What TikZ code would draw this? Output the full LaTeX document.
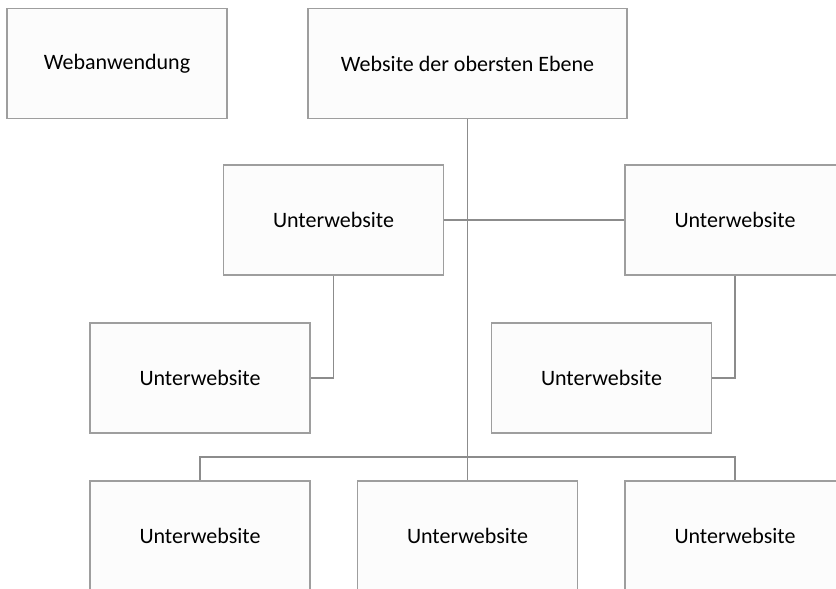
\documentclass[tikz,border=0pt]{standalone}
\usepackage{fontspec}
\setmainfont{Carlito}
\usetikzlibrary{positioning,calc}

\begin{document}
\begin{tikzpicture}[
    x=0.75pt, y=-0.75pt,
    % Define the styles for pages and links
    page/.style={draw=black!38, fill=black!1, line width=1.1pt,
        minimum width=220*0.75pt, minimum height=110*0.75pt,
        font=\fontsize{16.5}{19}\selectfont},
    link/.style={draw=black!45, line width=1.1pt},
    ]

    % Canvas
    \useasboundingbox (0,0) rectangle (836,589);
    \clip (0,0) rectangle (836,589);

    % Top row
    \node[page] (W) at (117,63.5) {Webanwendung};
    \node[page, minimum width=319*0.75pt] (T) at (467.5,63.5) {Website der obersten Ebene};

    % Second row
    \node[page] (U-L) at (333.5,220) {Unterwebsite};
    \node[page] (U-R) at (735,220) {Unterwebsite};

    % Third row
    \node[page] (V-L) at (200,378) {Unterwebsite};
    \node[page] (V-R) at (601.5,378) {Unterwebsite};

    % Bottom row
    \foreach \i/\x in {1/200,2/467.5,3/735}
        \node[page] (B-\i) at (\x,536) {Unterwebsite};

    % Junction above the bottom row
    \coordinate (J) at (467.5,457);

    % Connect the top page down to the bottom row
    \draw[link] (T) -- (J);
    \draw[link] (U-L) -- (U-R);

    % Connect second row to third row
    \draw[link] (U-L.south) |- (V-L.east);
    \draw[link] (U-R.south) |- (V-R.east);

    % Connect junction to the bottom row
    \draw[link] (B-1.north) |- (J) -| (B-3.north);
    \draw[link] (J) -- (B-2.north);

\end{tikzpicture}
\end{document}
